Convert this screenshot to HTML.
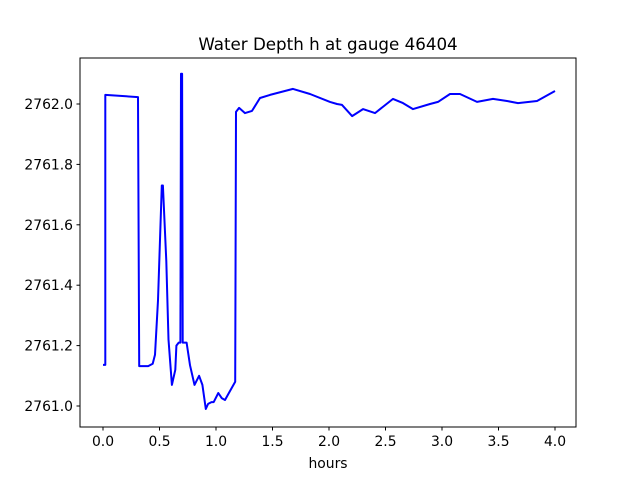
<!DOCTYPE html>
<html><head><meta charset="utf-8"><style>
body{margin:0;background:#fff;}
svg text{font-family:"DejaVu Sans","Liberation Sans",sans-serif;fill:#000;}
</style></head><body>
<svg id="chart" width="640" height="480" xmlns="http://www.w3.org/2000/svg">
<rect width="640" height="480" fill="#fff"/>
<text x="328" y="50" font-size="16.7" text-anchor="middle">Water Depth h at gauge 46404</text>
<g id="ticks"></g>
<path id="series" fill="none" stroke="#0000ff" stroke-width="2" stroke-linejoin="round"/>
<rect x="80" y="58" width="496" height="369" fill="none" stroke="#000" stroke-width="1"/>
<text x="328" y="468" font-size="13.9" text-anchor="middle">hours</text>
</svg>
<script>
const xTicks=[0,0.5,1,1.5,2,2.5,3,3.5,4];
const xTickLabels=["0.0","0.5","1.0","1.5","2.0","2.5","3.0","3.5","4.0"];
const yTicks=[2761.0,2761.2,2761.4,2761.6,2761.8,2762.0];
const yTickLabels=["2761.0","2761.2","2761.4","2761.6","2761.8","2762.0"];
const hours=[0,0.02,0.02,0.31,0.32,0.40,0.44,0.46,0.487,0.52,0.53,0.56,0.58,0.61,0.64,0.65,0.67,0.685,0.69,0.70,0.705,0.71,0.74,0.77,0.81,0.85,0.88,0.91,0.93,0.96,0.98,1.02,1.05,1.08,1.11,1.17,1.177,1.204,1.257,1.319,1.389,1.478,1.681,1.832,2.009,2.071,2.115,2.204,2.301,2.407,2.566,2.655,2.743,2.894,2.965,3.071,3.159,3.310,3.451,3.575,3.673,3.841,4.0];
const depth=[2761.136,2761.136,2762.030,2762.023,2761.132,2761.132,2761.14,2761.17,2761.35,2761.73,2761.73,2761.48,2761.22,2761.07,2761.12,2761.20,2761.21,2761.21,2762.10,2762.10,2761.21,2761.21,2761.21,2761.135,2761.07,2761.10,2761.07,2760.99,2761.007,2761.013,2761.013,2761.043,2761.026,2761.020,2761.04,2761.08,2761.974,2761.987,2761.970,2761.977,2762.020,2762.030,2762.050,2762.033,2762.007,2762.000,2761.997,2761.960,2761.983,2761.970,2762.017,2762.003,2761.983,2762.000,2762.007,2762.033,2762.033,2762.007,2762.017,2762.010,2762.003,2762.010,2762.043];
const X=t=>103+113*t;
const Y=h=>406-302*(h-2761);
const NS="http://www.w3.org/2000/svg";
const g=document.getElementById('ticks');
function mk(tag,attrs){const e=document.createElementNS(NS,tag);for(const k in attrs)e.setAttribute(k,attrs[k]);g.appendChild(e);return e;}
xTicks.forEach((v,i)=>{
  const l=mk('line',{x1:X(v),x2:X(v),y1:427,y2:430.5,stroke:'#000'});
  
  
  const t=mk('text',{x:X(v),y:446,'font-size':13.9,'text-anchor':'middle'});
  
  
  t.textContent=xTickLabels[i];
});
yTicks.forEach((v,i)=>{
  const l=mk('line',{x1:76.5,x2:80,y1:Y(v),y2:Y(v),stroke:'#000'});
  
  
  const t=mk('text',{x:73,y:Y(v)+5,'font-size':13.9,'text-anchor':'end'});
  
  
  t.textContent=yTickLabels[i];
});
document.getElementById('series').setAttribute('d',hours.map((t,i)=>(i?'L':'M')+X(t).toFixed(1)+','+Y(depth[i]).toFixed(1)).join(''));
</script>
</body></html>
